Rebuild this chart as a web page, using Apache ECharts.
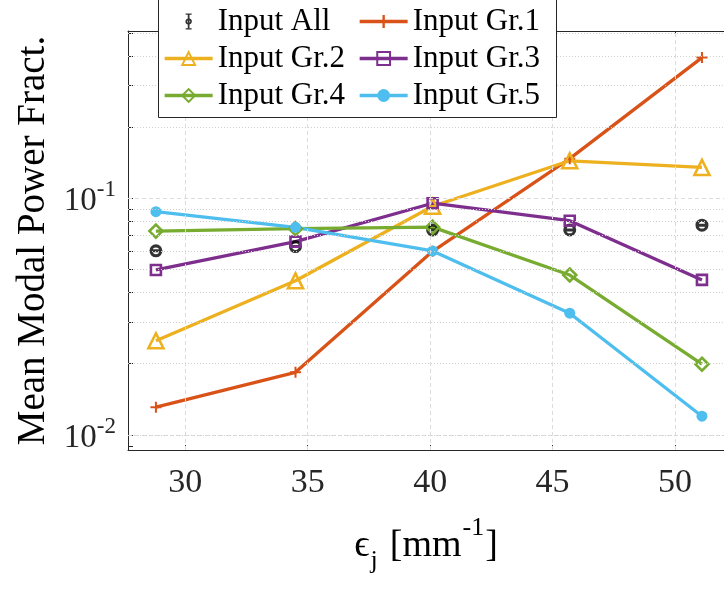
<!DOCTYPE html>
<html>
<head>
<meta charset="utf-8">
<script src="https://cdn.jsdelivr.net/npm/echarts@6/dist/echarts.min.js"></script>
<style>
	html, body { margin: 0; padding: 0; background: #fff; }
	#chart { width: 724px; height: 592px; }
</style>
</head>
<body>
<div id="chart"></div>
<script>
// values
const xVals = [28.8, 34.5, 40.1, 45.7, 51.1];
const inputAll = [0.0600, 0.0625, 0.0735, 0.0735, 0.0770];
const inputGr1 = [0.0131, 0.0184, 0.0597, 0.1470, 0.3930];
const inputGr2 = [0.0250, 0.0448, 0.0925, 0.1440, 0.1350];
const inputGr3 = [0.0498, 0.0656, 0.0953, 0.0804, 0.0452];
const inputGr4 = [0.0727, 0.0744, 0.0755, 0.0474, 0.0199];
const inputGr5 = [0.0878, 0.0754, 0.0599, 0.0327, 0.0120];

// ticks
const xTicks = [30, 35, 40, 45, 50];
const yMajor = [0.01, 0.1];
const yMinor = [0.009, 0.02, 0.03, 0.04, 0.05, 0.06, 0.07, 0.08, 0.09, 0.2, 0.3, 0.4, 0.5];
const yLabels = { '0.01': '-2', '0.1': '-1' };

const FONT = "'Liberation Serif', 'DejaVu Serif', serif";
const AXIS = '#262626';

const pairs = (ys) => xVals.map((x, i) => [x, ys[i]]);

const plusPath = 'path://M-1.1,-6 H1.1 V-1.1 H6 V1.1 H1.1 V6 H-1.1 V1.1 H-6 V-1.1 H-1.1 Z';
const ringBar = 'path://M0,-6 A6,6 0 1,1 0,6 A6,6 0 1,1 0,-6 Z M0,-3.1 A3.1,3.1 0 1,0 0,3.1 A3.1,3.1 0 1,0 0,-3.1 Z M-4,-1.4 H4 V1.4 H-4 Z';
const errIcon = 'path://M-4.5,-12 H4.5 V-10 H1.3 V-4.6 A4.8,4.8 0 0,1 1.3,4.6 V10 H4.5 V12 H-4.5 V10 H-1.3 V4.6 A4.8,4.8 0 0,1 -1.3,-4.6 V-10 H-4.5 Z M0,-2.3 A2.3,2.3 0 1,0 0,2.3 A2.3,2.3 0 1,0 0,-2.3 Z M-1.3,-2.3 H1.3 V2.3 H-1.3 Z';

const lineSeries = (name, ys, color, symbol, size, filled) => ({
	name: name,
	type: 'line',
	data: pairs(ys),
	symbol: symbol,
	symbolSize: size,
	showAllSymbol: true,
	z: 3,
	lineStyle: { color: color, width: 3.3 },
	itemStyle: filled
		? { color: color, borderWidth: 0 }
		: { color: 'rgba(255,255,255,0)', borderColor: color, borderWidth: 2.6 }
});

const gridLines = [].concat(
	xTicks.map(v => ({ xAxis: v, lineStyle: { type: [4, 3], color: '#dcdcdc', width: 1 } })),
	yMajor.map(v => ({ yAxis: v, lineStyle: { type: [4, 3], color: '#dcdcdc', width: 1 } })),
	yMinor.map(v => ({ yAxis: v, lineStyle: { type: [1, 2], color: '#cfcfcf', width: 1 } }))
);

const legendText = { fontSize: 31, fontFamily: FONT, color: '#000', lineHeight: 31 };

const option = {
	animation: false,
	backgroundColor: '#fff',
	textStyle: { fontFamily: FONT },
	grid: { left: 128, right: -5, top: 31, bottom: 142, containLabel: false },
	xAxis: [{
		type: 'value',
		min: 27.66,
		max: 52,
		name: '{e|ϵ}{sub|j}{t|[mm}{sup|-1}{t|]}',
		nameLocation: 'middle',
		nameGap: 65,
		nameTextStyle: {
			color: '#000',
			rich: {
				e: { fontSize: 38, fontFamily: FONT, color: '#000', verticalAlign: 'top', lineHeight: 40, padding: [12, 0, 0, 0] },
				sub: { fontSize: 26, fontFamily: FONT, color: '#000', verticalAlign: 'top', lineHeight: 26, padding: [33, 12, 0, 1] },
				t: { fontSize: 38, fontFamily: FONT, color: '#000', verticalAlign: 'top', lineHeight: 40, padding: [12, 0, 0, 0] },
				sup: { fontSize: 26, fontFamily: FONT, color: '#000', verticalAlign: 'top', lineHeight: 26, padding: [0, 1, 0, 1] }
			}
		},
		axisLine: { show: true, lineStyle: { color: AXIS, width: 1 } },
		axisTick: { show: true, inside: true, length: 5, customValues: xTicks, lineStyle: { color: AXIS } },
		axisLabel: { customValues: xTicks, margin: 16, fontSize: 34, fontFamily: FONT, color: '#262626' },
		splitLine: { show: false }
	}, {
		type: 'value',
		position: 'top',
		min: 27.66,
		max: 52,
		axisLine: { show: true, lineStyle: { color: AXIS, width: 1 } },
		axisTick: { show: true, inside: true, length: 5, customValues: xTicks, lineStyle: { color: AXIS } },
		axisLabel: { show: false },
		splitLine: { show: false }
	}],
	yAxis: {
		type: 'log',
		logBase: 10,
		min: 0.00864,
		max: 0.509,
		name: 'Mean Modal Power Fract.',
		nameLocation: 'middle',
		nameGap: 75,
		nameTextStyle: { fontSize: 39, fontFamily: FONT, color: '#000' },
		axisLine: { show: true, lineStyle: { color: AXIS, width: 1 } },
		axisTick: { show: true, inside: true, length: 5, customValues: yMajor.concat(yMinor), lineStyle: { color: AXIS } },
		axisLabel: {
			customValues: yMajor,
			margin: 12,
			formatter: v => {
				const key = String(Math.round(v * 1000) / 1000);
				return '{b|10}{s|' + (yLabels[key] || '') + '}';
			},
			rich: {
				b: { fontSize: 33, fontFamily: FONT, color: '#262626', verticalAlign: 'bottom' },
				s: { fontSize: 23, fontFamily: FONT, color: '#262626', verticalAlign: 'bottom', padding: [0, 0, 17, 0] }
			}
		},
		splitLine: { show: false },
		minorTick: { show: false }
	},
	legend: [{
		orient: 'vertical',
		left: 163,
		top: 6,
		padding: 0,
		itemGap: 6,
		itemWidth: 48,
		itemHeight: 16,
		lineStyle: { width: 3.3 },
		textStyle: legendText,
		data: [{ name: 'Input All', icon: errIcon, itemStyle: { color: '#000' } }, 'Input Gr.2', 'Input Gr.4'],
		z: 10
	}, {
		orient: 'vertical',
		left: 358,
		top: 6,
		padding: 0,
		itemGap: 6,
		itemWidth: 48,
		itemHeight: 16,
		lineStyle: { width: 3.3 },
		textStyle: legendText,
		data: ['Input Gr.1', 'Input Gr.3', 'Input Gr.5'],
		z: 10
	}],
	graphic: [{
		type: 'rect',
		left: 158,
		top: -1,
		z: 8,
		shape: { width: 398, height: 118 },
		style: { fill: '#fff', stroke: AXIS, lineWidth: 1 }
	}],
	series: [
		{
			name: 'grid',
			type: 'line',
			data: [],
			z: 1,
			markLine: { silent: true, symbol: ['none', 'none'], label: { show: false }, animation: false, data: gridLines }
		},
		{
			name: 'Input All',
			type: 'scatter',
			data: pairs(inputAll),
			symbol: ringBar,
			symbolSize: 13,
			z: 3,
			itemStyle: { color: '#000' }
		},
		lineSeries('Input Gr.1', inputGr1, '#D95319', plusPath, 11, true),
		lineSeries('Input Gr.2', inputGr2, '#EDB120', 'triangle', 15, false),
		lineSeries('Input Gr.3', inputGr3, '#7E2F8E', 'rect', 10, false),
		lineSeries('Input Gr.4', inputGr4, '#77AC30', 'diamond', 13, false),
		lineSeries('Input Gr.5', inputGr5, '#4DBEEE', 'circle', 11, true)
	]
};

const initChart = () => {
	const chart = echarts.init(document.getElementById('chart'), null, { renderer: 'canvas' });
	chart.setOption(option);
};

initChart();
</script>
</body>
</html>
